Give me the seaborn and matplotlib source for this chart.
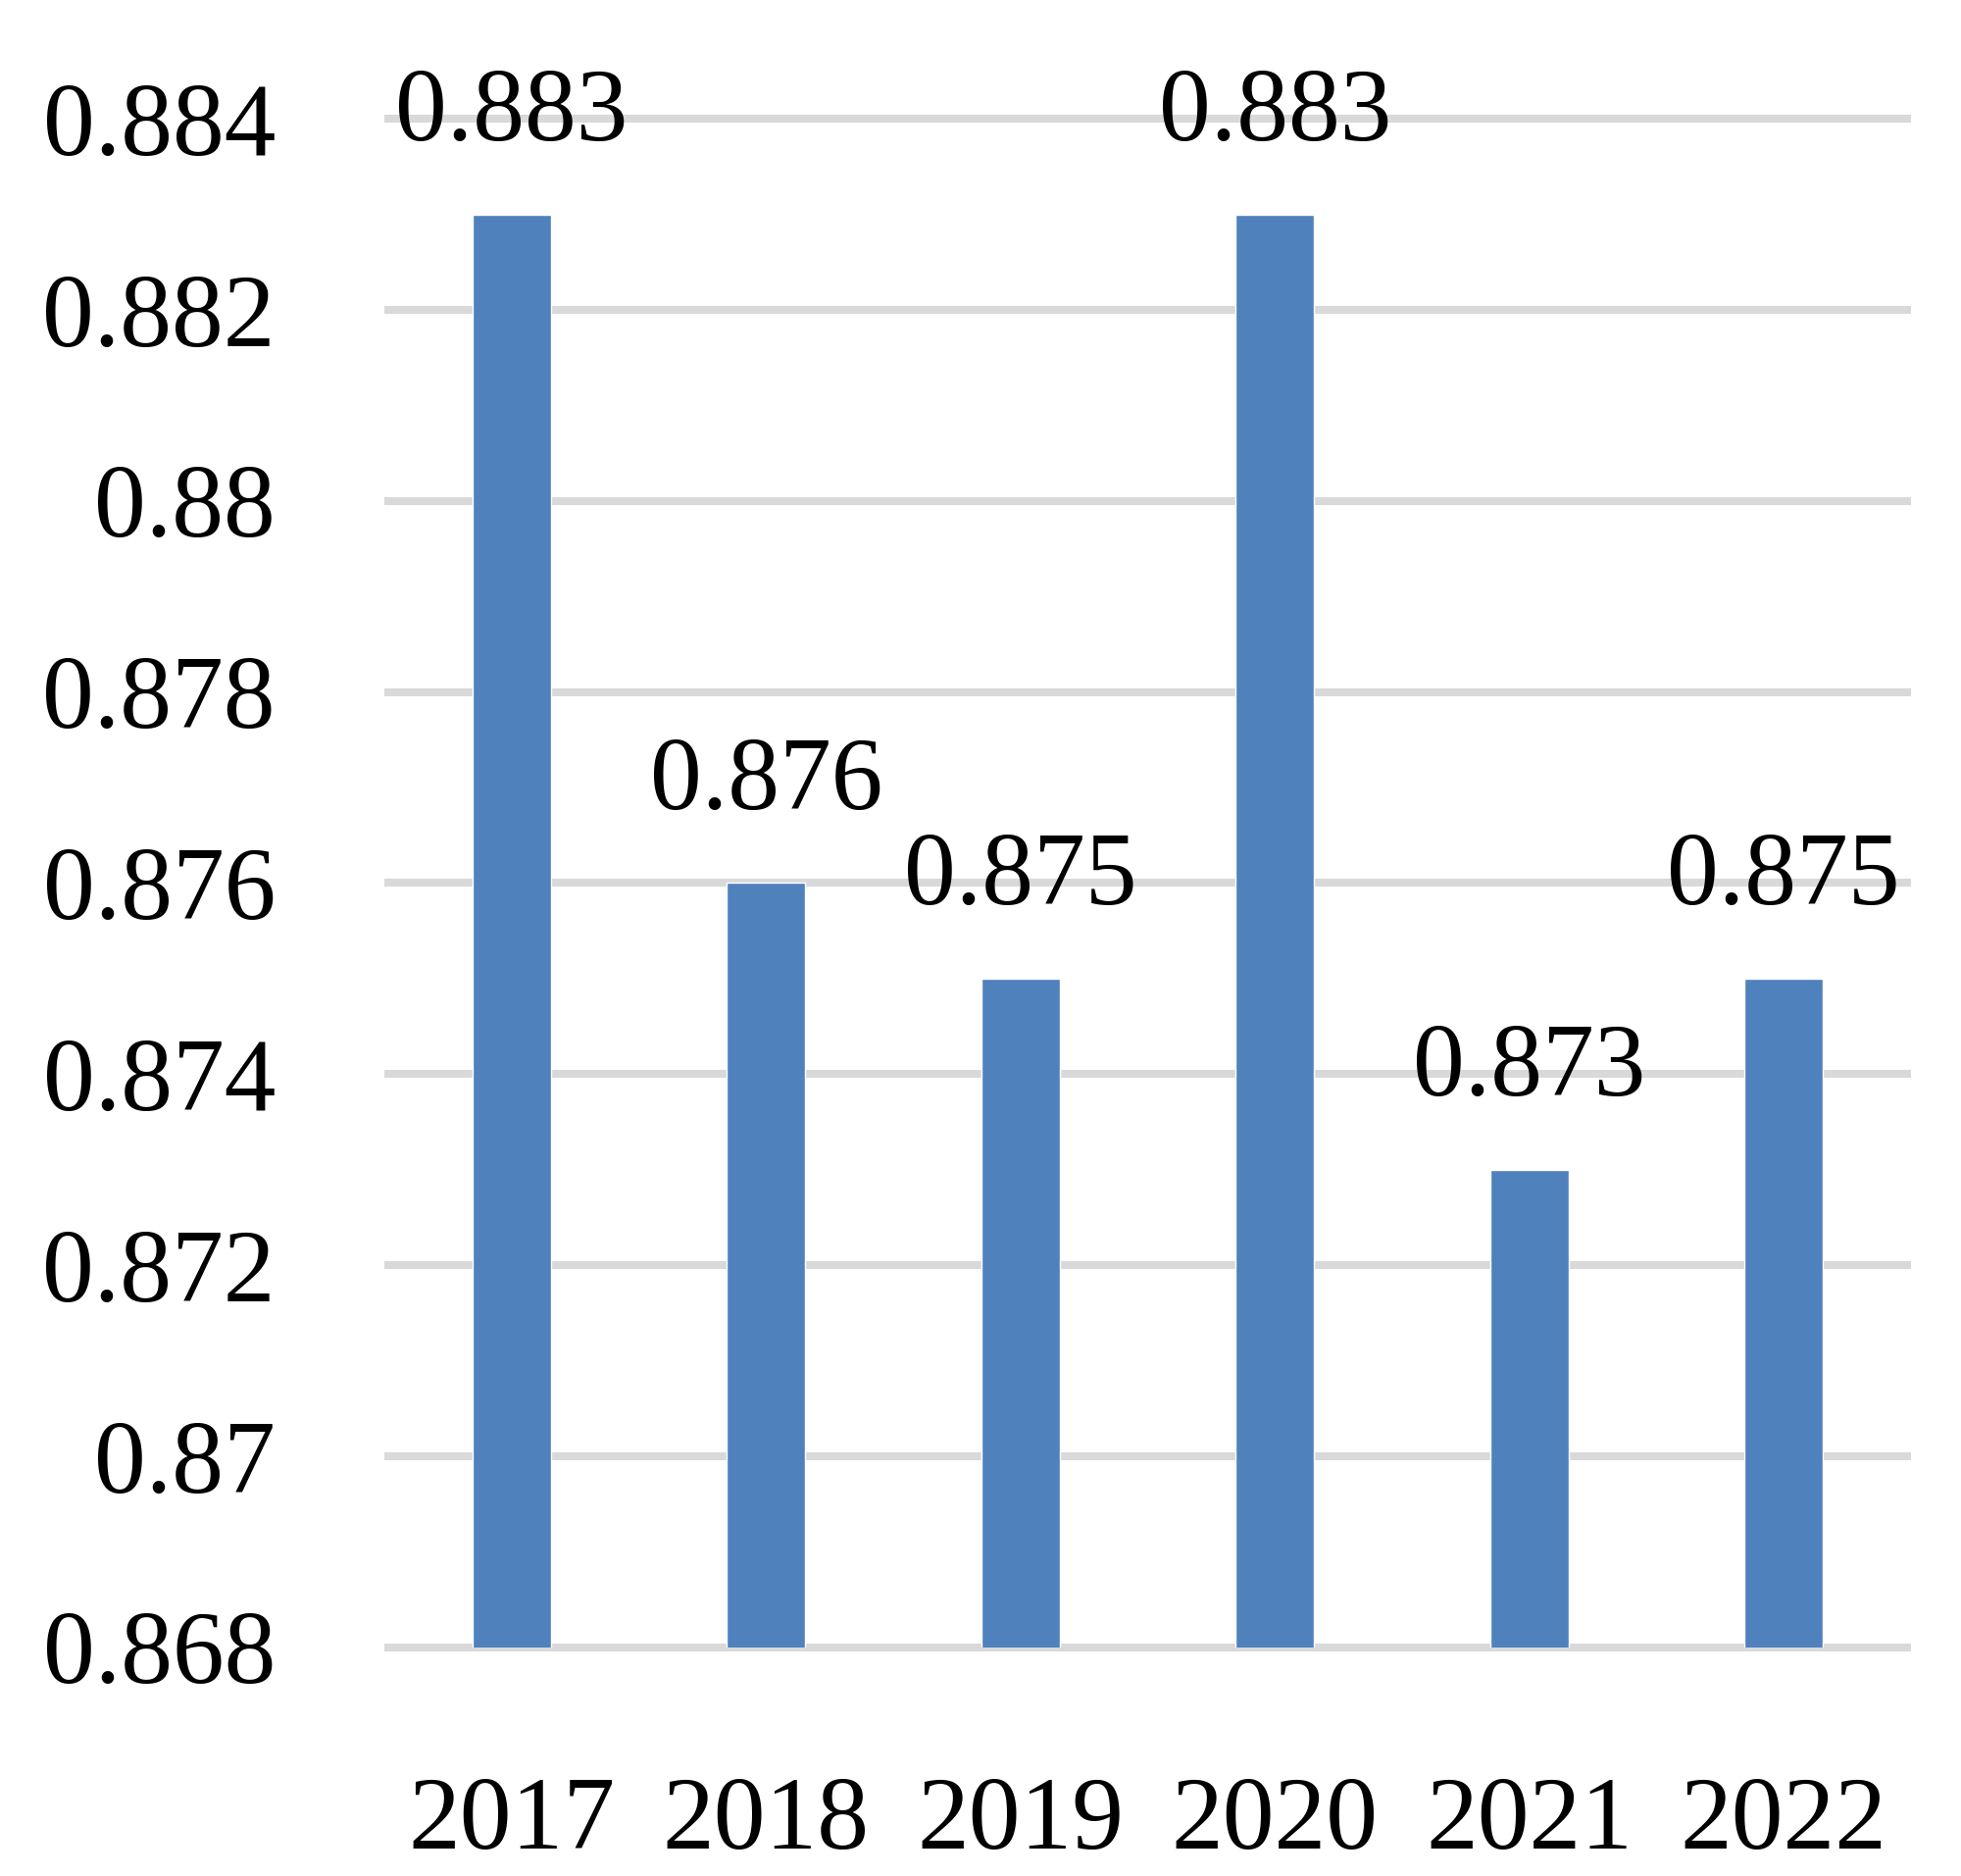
import matplotlib
matplotlib.use("Agg")
import matplotlib.pyplot as plt
import seaborn as sns
import pandas as pd

years = ["2017", "2018", "2019", "2020", "2021", "2022"]
values = [0.883, 0.876, 0.875, 0.883, 0.873, 0.875]
value_labels = ["0.883", "0.876", "0.875", "0.883", "0.873", "0.875"]
y_ticks = [0.868, 0.870, 0.872, 0.874, 0.876, 0.878, 0.880, 0.882, 0.884]
y_tick_labels = ["0.868", "0.87", "0.872", "0.874", "0.876", "0.878", "0.88", "0.882", "0.884"]

sns.set_theme(style="white")
plt.rcParams['font.family'] = ['Liberation Serif', 'DejaVu Serif']
plt.rcParams['text.color'] = 'black'
plt.rcParams['xtick.color'] = 'black'
plt.rcParams['ytick.color'] = 'black'

df = pd.DataFrame({"year": years, "value": values})

fig = plt.figure(figsize=(20, 19.13), dpi=100)
ax = fig.add_axes([0.196, 0.122, 0.7785, 0.8147])

sns.barplot(data=df, x="year", y="value", color="#4F81BD", saturation=1,
            width=0.31, ax=ax, zorder=3)

ax.set_ylim(0.868, 0.884)
ax.set_yticks(y_ticks)
ax.set_yticklabels(y_tick_labels)
ax.yaxis.grid(True, color="#D9D9D9", linewidth=5.8, zorder=0)
for gl in ax.get_ygridlines():
    gl.set_clip_on(False)
    gl.set_solid_capstyle("butt")
ax.xaxis.grid(False)
ax.set_axisbelow(True)
for s in ax.spines.values():
    s.set_visible(False)
ax.tick_params(axis="y", labelsize=76, pad=80, length=0, labelcolor="black")
ax.tick_params(axis="x", labelsize=76, pad=95, length=0, labelcolor="black")
ax.set_xlabel("")
ax.set_ylabel("")
ax.set_xlim(-0.5, 5.5)

for i, (v, lab) in enumerate(zip(values, value_labels)):
    ax.annotate(lab, xy=(i, v), xytext=(0, 38), textcoords="offset points",
                ha="center", va="bottom", fontsize=76, color="black", zorder=5)

fig.savefig("out.png", dpi=100)
